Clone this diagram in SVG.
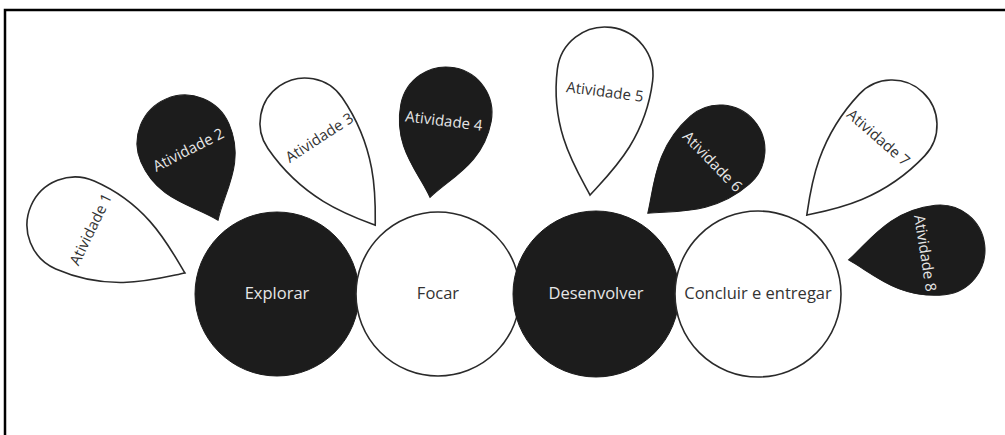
<svg xmlns="http://www.w3.org/2000/svg" width="1005" height="435" viewBox="0 0 1005 435">
<style>
.bg{fill:#ffffff}
.frame{stroke:#000;stroke-width:2.5;fill:none}
.dk{fill:#1c1c1c;stroke:#1c1c1c;stroke-width:1}
.lt{fill:#ffffff;stroke:#2a2a2a;stroke-width:1.6}
.tl{font-family:"Open Sans","Liberation Sans",sans-serif;fill:#e6e6e6;text-anchor:middle;dominant-baseline:central}
.td{font-family:"Open Sans","Liberation Sans",sans-serif;fill:#333;text-anchor:middle;dominant-baseline:central}
.a{font-size:15px}
.c{font-size:16.5px}
</style>
<rect class="bg" x="0" y="0" width="1005" height="435"/>
<path class="frame" d="M5,435 V10 H1005"/>
<g id="connectors"></g>
<g id="drop1"><path class="lt" transform="translate(75,225) rotate(-66.4)" d="M0,120 C16.8,96 48,60 48,0 A48,48 0 0 0 -48,0 C-48,60 -16.8,96 0,120 Z"/><text class="td a" transform="translate(90,229) rotate(-64)">Atividade 1</text></g>
<g id="drop2"><path class="dk" transform="translate(185,143) rotate(-23.2)" d="M0,84 C16.8,60 48,42 48,0 A48,48 0 0 0 -48,0 C-48,42 -16.8,60 0,84 Z"/><text class="tl a" transform="translate(188,149) rotate(-27)">Atividade 2</text></g>
<g id="drop3"><path class="lt" transform="translate(305,123) rotate(-34.5)" d="M0,124 C15.8,101.5 45,62 45,0 A45,45 0 0 0 -45,0 C-45,62 -15.8,101.5 0,124 Z"/><text class="td a" transform="translate(319,137) rotate(-33)">Atividade 3</text></g>
<g id="drop4"><path class="dk" transform="translate(446,113) rotate(10.7)" d="M0,86 C16.1,63 46,43 46,0 A46,46 0 0 0 -46,0 C-46,43 -16.1,63 0,86 Z"/><text class="tl a" transform="translate(444,120) rotate(7)">Atividade 4</text></g>
<g id="drop5"><path class="lt" transform="translate(605,75) rotate(7.1)" d="M0,121 C16.8,97 48,60.5 48,0 A48,48 0 0 0 -48,0 C-48,60.5 -16.8,97 0,121 Z"/><text class="td a" transform="translate(605,91) rotate(7.4)">Atividade 5</text></g>
<g id="drop6"><path class="dk" transform="translate(720,150) rotate(48.8)" d="M0,96 C15.8,73.5 45,48 45,0 A45,45 0 0 0 -45,0 C-45,48 -15.8,73.5 0,96 Z"/><text class="tl a" transform="translate(713,161) rotate(46)">Atividade 6</text></g>
<g id="drop7"><path class="lt" transform="translate(892,125) rotate(43.4)" d="M0,124 C15.8,101.5 45,62 45,0 A45,45 0 0 0 -45,0 C-45,62 -15.8,101.5 0,124 Z"/><text class="td a" transform="translate(879,137) rotate(41)">Atividade 7</text></g>
<g id="drop8"><path class="dk" transform="translate(940,250) rotate(83.8)" d="M0,92 C15.8,69.5 45,46 45,0 A45,45 0 0 0 -45,0 C-45,46 -15.8,69.5 0,92 Z"/><text class="tl a" transform="translate(926,253) rotate(81)">Atividade 8</text></g>
<g id="explorar"><circle class="dk" cx="277" cy="294" r="82"/><text class="tl c" x="277" y="292">Explorar</text></g>
<g id="focar"><circle class="lt" cx="438" cy="294" r="82"/><text class="td c" x="438" y="292">Focar</text></g>
<g id="desenvolver"><circle class="dk" cx="596" cy="294" r="83"/><text class="tl c" x="596" y="292">Desenvolver</text></g>
<g id="concluir"><circle class="lt" cx="758" cy="294" r="83"/><text class="td c" x="758" y="292">Concluir e entregar</text></g>
</svg>
